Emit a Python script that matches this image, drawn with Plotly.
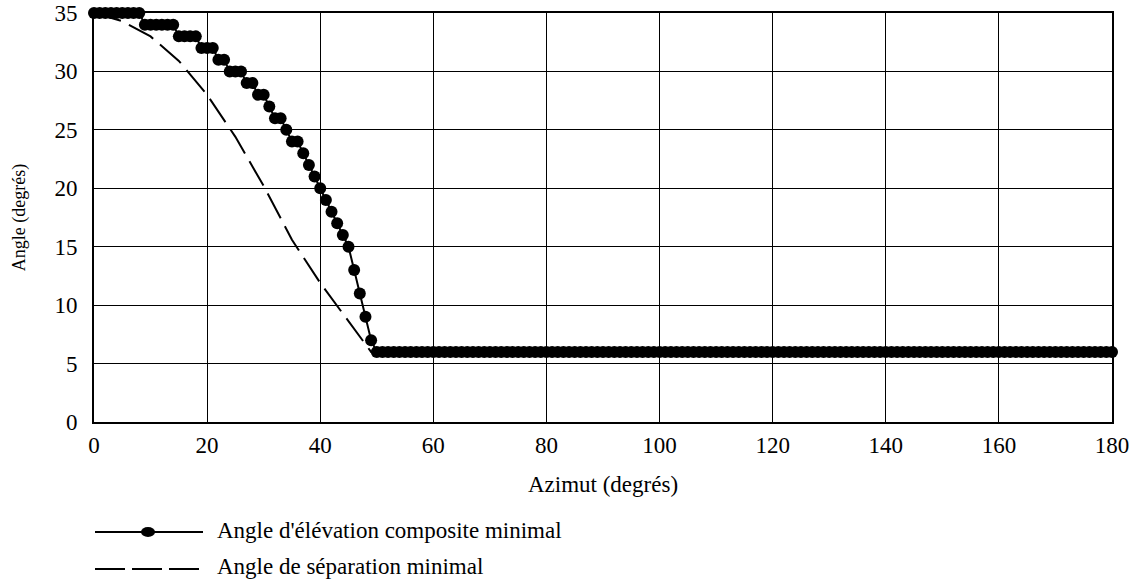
import plotly.graph_objects as go

# ---- data ----
azimut_composite = list(range(0, 181))
elev_composite_head = [
    35, 35, 35, 35, 35, 35, 35, 35, 35,      # 0-8
    34, 34, 34, 34, 34, 34,                  # 9-14
    33, 33, 33, 33,                          # 15-18
    32, 32, 32,                              # 19-21
    31, 31,                                  # 22-23
    30, 30, 30,                              # 24-26
    29, 29,                                  # 27-28
    28, 28,                                  # 29-30
    27,                                      # 31
    26, 26,                                  # 32-33
    25,                                      # 34
    24, 24,                                  # 35-36
    23, 22, 21, 20, 19, 18, 17, 16, 15,      # 37-45
    13, 11, 9, 7,                            # 46-49
]
elev_composite = elev_composite_head + [6] * (181 - len(elev_composite_head))

azimut_separation = [0, 5, 10, 15, 20, 25, 30, 35, 40, 45, 49, 180]
angle_separation = [35, 34.3, 33.0, 30.9, 28.0, 24.4, 20.2, 15.6, 11.9, 8.6, 6, 6]

x_ticks = [0, 20, 40, 60, 80, 100, 120, 140, 160, 180]
y_ticks = [0, 5, 10, 15, 20, 25, 30, 35]

legend_labels = ["Angle d'élévation composite minimal", "Angle de séparation minimal"]

FONT = "Liberation Serif, Times New Roman, serif"
FS = 23

FIG_W, FIG_H = 1137, 584
L, T = 94, 13
R = FIG_W - 1112
B = FIG_H - 422
W, H = FIG_W - L - R, FIG_H - T - B

fig = go.Figure()
fig.add_trace(go.Scatter(
    x=azimut_separation, y=angle_separation, mode="lines",
    line=dict(color="black", width=2, dash="28px,9px"),
    cliponaxis=False, showlegend=False, name=legend_labels[1]))
fig.add_trace(go.Scatter(
    x=azimut_composite, y=elev_composite, mode="lines+markers",
    line=dict(color="black", width=2),
    marker=dict(color="black", size=12, symbol="circle"),
    cliponaxis=False, showlegend=False, name=legend_labels[0]))

# ---- manual legend (below the plot), positions given in page pixels ----
def px(xp):
    return (xp - L) / W

def py(yp):
    return (FIG_H - B - yp) / H

shapes = []
shapes.append(dict(type="line", xref="paper", yref="paper",
                   x0=px(95), x1=px(203), y0=py(532), y1=py(532),
                   line=dict(color="black", width=2)))
shapes.append(dict(type="circle", xref="paper", yref="paper",
                   xsizemode="pixel", ysizemode="pixel",
                   xanchor=px(148), yanchor=py(532),
                   x0=-7, x1=7, y0=-5, y1=5,
                   fillcolor="black", line=dict(color="black", width=0)))
shapes.append(dict(type="line", xref="paper", yref="paper",
                   x0=px(95), x1=px(203), y0=py(569), y1=py(569),
                   line=dict(color="black", width=2, dash="30px,7px")))

annotations = [
    dict(xref="paper", yref="paper", x=px(215), y=py(530), xanchor="left",
         yanchor="middle", text=legend_labels[0], showarrow=False,
         font=dict(family=FONT, size=FS, color="black")),
    dict(xref="paper", yref="paper", x=px(215), y=py(566), xanchor="left",
         yanchor="middle", text=legend_labels[1], showarrow=False,
         font=dict(family=FONT, size=FS, color="black")),
]

axis_common = dict(
    showgrid=True, gridcolor="black", gridwidth=1,
    showline=True, linecolor="black", linewidth=2, mirror=True,
    zeroline=False, ticks="outside", tickcolor="rgba(0,0,0,0)",
    ticklabeloverflow="allow",
    tickfont=dict(family=FONT, size=FS, color="black"),
)

fig.update_layout(
    width=FIG_W, height=FIG_H,
    margin=dict(l=L, r=R, t=T, b=B, autoexpand=False),
    paper_bgcolor="white", plot_bgcolor="white",
    font=dict(family=FONT, size=FS, color="black"),
    xaxis=dict(range=[0, 180], tickvals=x_ticks, ticklen=1,
               title=dict(text="Azimut (degrés)", standoff=19,
                          font=dict(family=FONT, size=FS, color="black")),
               **axis_common),
    yaxis=dict(range=[0, 35], tickvals=y_ticks, ticklen=10,
               title=dict(text="Angle (degrés)", standoff=24,
                          font=dict(family=FONT, size=18, color="black")),
               **axis_common),
    shapes=shapes, annotations=annotations,
    showlegend=False,
)

fig.write_html("out.html", config={"displayModeBar": False},
               post_script="document.body.style.margin='0';document.body.style.overflow='hidden';")
